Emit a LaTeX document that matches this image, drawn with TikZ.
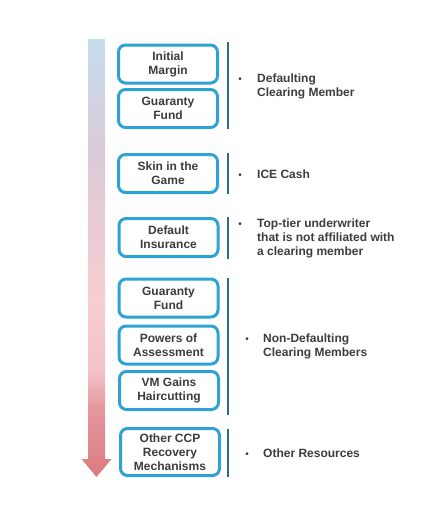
\documentclass[tikz,border=0pt]{standalone}
\usepackage{fontspec}
\setmainfont{Liberation Sans}
\usetikzlibrary{arrows.meta}

\definecolor{boxblue}{HTML}{2EA2D4}
\definecolor{rulecol}{HTML}{2F6D83}
\definecolor{inkgray}{HTML}{3C3C3C}
\definecolor{flowtop}{HTML}{C6DDEE}
\definecolor{flowmix}{HTML}{DACAD7}
\definecolor{flowpink}{HTML}{F8CED2}
\definecolor{flowrose}{HTML}{F2C2C6}
\definecolor{flowdeep}{HTML}{E4989D}
\definecolor{flowend}{HTML}{DC7B81}

\pgfdeclareverticalshading{cascade}{100bp}{
  color(0bp)=(flowend); color(25bp)=(flowend); color(33bp)=(flowdeep);
  color(37bp)=(flowrose); color(45bp)=(flowpink); color(62bp)=(flowmix);
  color(75bp)=(flowtop); color(100bp)=(flowtop)}

\begin{document}
\begin{tikzpicture}[
  x=1pt, y=-1pt,
  font=\fontsize{12}{14}\selectfont\bfseries, text=inkgray,
  layer/.style={draw=boxblue, line width=3pt, rounded corners=7pt, fill=white,
    minimum width=99pt, minimum height=38pt, align=center, inner sep=0pt},
  who/.style={anchor=west, align=left, inner sep=0pt},
  dot/.style={inner sep=0pt, font=\fontsize{10}{12}\selectfont},
  split/.style={rulecol, line width=1.2pt}
]
  \useasboundingbox (0,0) rectangle (441,514);

  % waterfall arrow
  \shade[shading=cascade] (88,39) -- (105,39) -- (105,459) -- (111.5,459)
    -- (96.5,477) -- (81.5,459) -- (88,459) -- cycle;

  % resources, top to bottom
  \node[layer] (im) at (168,64) {Initial\\Margin};
  \node[layer] (gf) at (168,108.5) {Guaranty\\Fund};
  \node[layer] (skin) at (168,173.5) {Skin in the\\Game};
  \node[layer] (ins) at (168.5,237.5) {Default\\Insurance};
  \node[layer] (gf2) at (168.5,298) {Guaranty\\Fund};
  \node[layer] (poa) at (168.5,345) {Powers of\\Assessment};
  \node[layer] (vmg) at (169,390.5) {VM Gains\\Haircutting};
  \node[layer, minimum height=47pt] (ccp) at (170,452) {Other CCP\\Recovery\\Mechanisms};

  % separators
  \coordinate (s1a) at (228,42);  \coordinate (s1b) at (228,129);
  \coordinate (s2a) at (228,153); \coordinate (s2b) at (228,194);
  \coordinate (s3a) at (228,217); \coordinate (s3b) at (228,259);
  \coordinate (s4a) at (228,278); \coordinate (s4b) at (228,415);
  \coordinate (s5a) at (228,429); \coordinate (s5b) at (228,477);
  \draw[split] (s1a) -- (s1b);
  \draw[split] (s2a) -- (s2b);
  \draw[split] (s3a) -- (s3b);
  \draw[split] (s4a) -- (s4b);
  \draw[split] (s5a) -- (s5b);

  % who pays
  \node[who] (dcm) at (257,86) {Defaulting\\Clearing Member};
  \node[who] (ice) at (257,174) {ICE Cash};
  \node[who] (top) at (257,238) {Top-tier underwriter\\that is not affiliated with\\a clearing member};
  \node[who] (ndcm) at (263,346) {Non-Defaulting\\Clearing Members};
  \node[who] (oth) at (263,453) {Other Resources};

  \node[dot] (b1) at ([xshift=-17pt,yshift=-6.5pt]dcm.north west) {•};
  \node[dot] (b2) at ([xshift=-17pt,yshift=-6.5pt]ice.north west) {•};
  \node[dot] (b3) at ([xshift=-17pt,yshift=-6.5pt]top.north west) {•};
  \node[dot] (b4) at ([xshift=-16pt,yshift=-6.5pt]ndcm.north west) {•};
  \node[dot] (b5) at ([xshift=-16pt,yshift=-6.5pt]oth.north west) {•};
\end{tikzpicture}
\end{document}
